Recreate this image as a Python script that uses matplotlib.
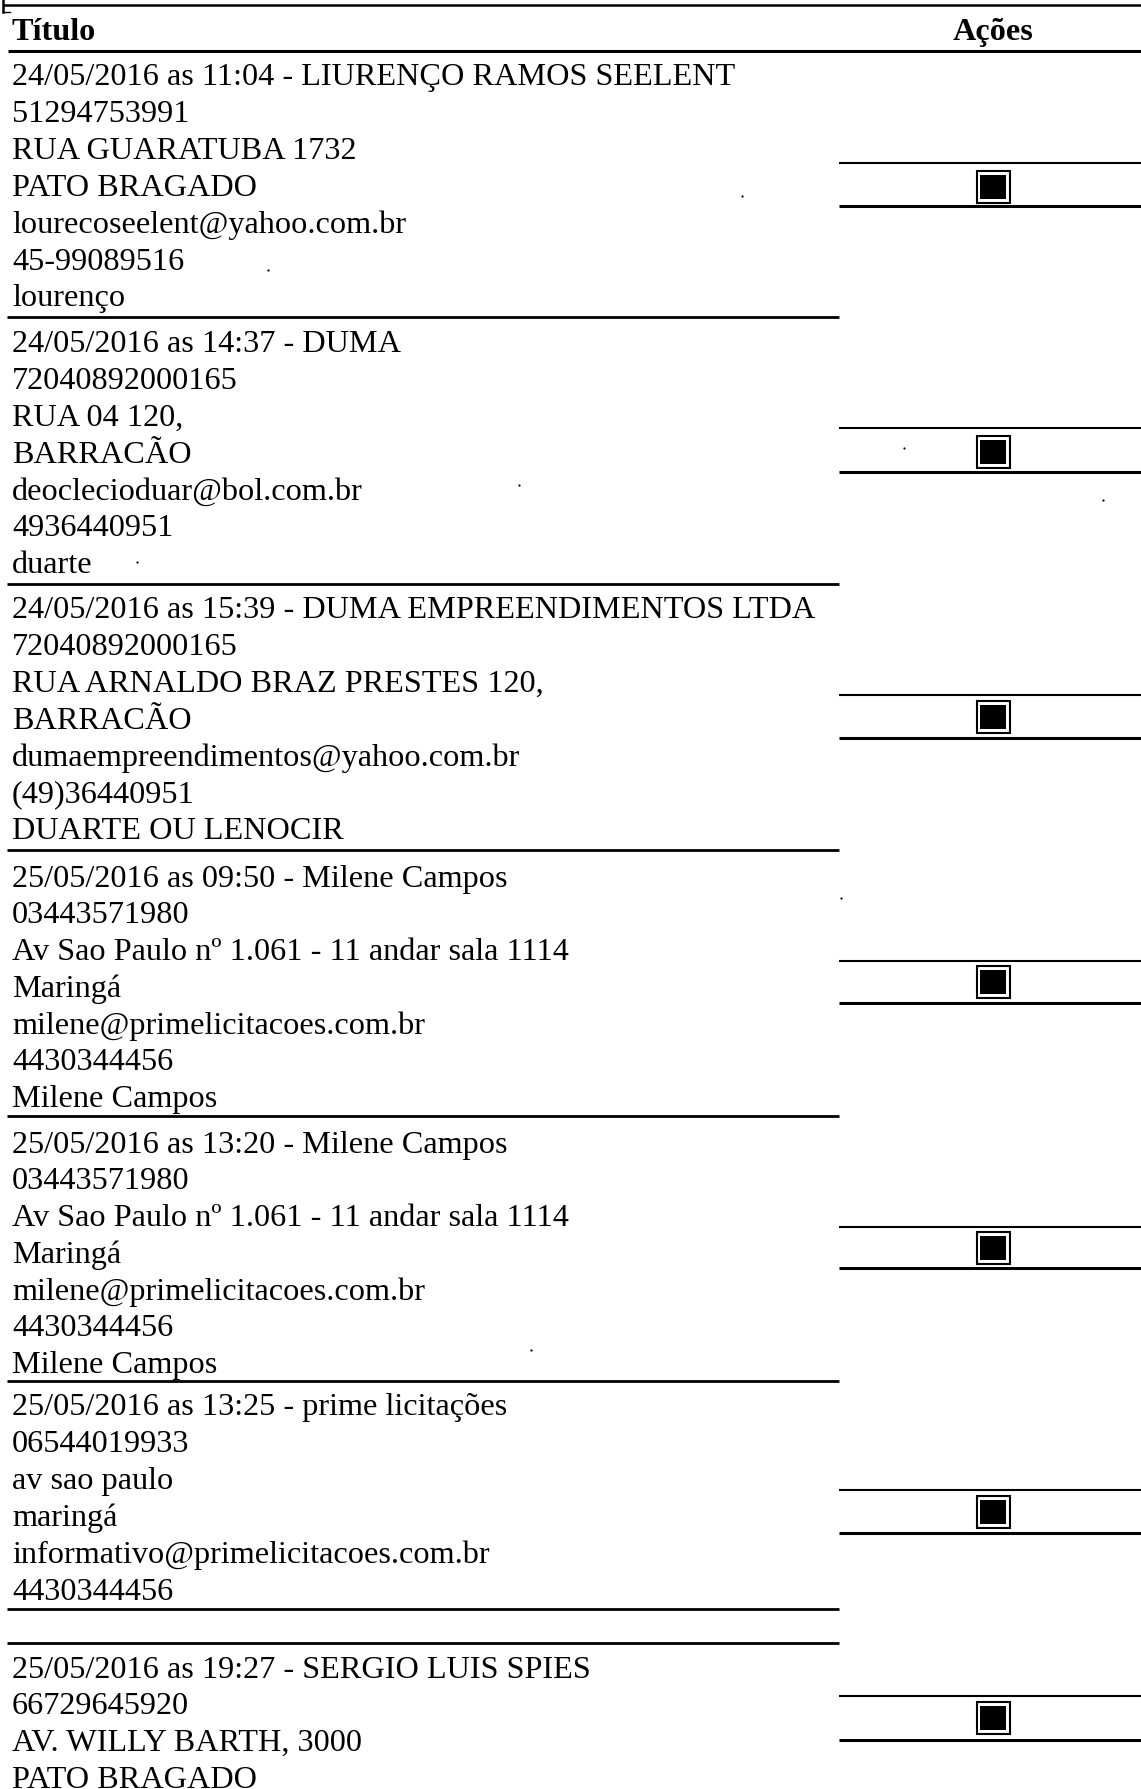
import matplotlib.pyplot as plt
from matplotlib.patches import Rectangle

# conteudo da tabela (texto de cada registro)
cabecalho = ["Título", "Ações"]

registros = [
    ["24/05/2016 as 11:04 - LIURENÇO RAMOS SEELENT", "51294753991", "RUA GUARATUBA 1732",
     "PATO BRAGADO", "lourecoseelent@yahoo.com.br", "45-99089516", "lourenço"],
    ["24/05/2016 as 14:37 - DUMA", "72040892000165", "RUA 04 120,", "BARRACÃO",
     "deocleciodua" "r@bol.com.br", "4936440951", "duarte"],
    ["24/05/2016 as 15:39 - DUMA EMPREENDIMENTOS LTDA", "72040892000165",
     "RUA ARNALDO BRAZ PRESTES 120,", "BARRACÃO", "dumaempreendimentos@yahoo.com.br",
     "(49)36440951", "DUARTE OU LENOCIR"],
    ["25/05/2016 as 09:50 - Milene Campos", "03443571980", "Av Sao Paulo nº 1.061 - 11 andar sala 1114",
     "Maringá", "milene@primelicitacoes.com.br", "4430344456", "Milene Campos"],
    ["25/05/2016 as 13:20 - Milene Campos", "03443571980", "Av Sao Paulo nº 1.061 - 11 andar sala 1114",
     "Maringá", "milene@primelicitacoes.com.br", "4430344456", "Milene Campos"],
    ["25/05/2016 as 13:25 - prime licitações", "06544019933", "av sao paulo", "maringá",
     "informativo@primelicitacoes.com.br", "4430344456"],
    ["25/05/2016 as 19:27 - SERGIO LUIS SPIES", "66729645920", "AV. WILLY BARTH, 3000", "PATO BRAGADO"],
]

# layout em pixels da imagem (1141 x 1789)
W, H = 1141, 1789
x_texto = 12
x_coluna = 839
x_icone = 993
passo_linha = 36.8
y_primeira = [75, 342, 608, 876, 1142, 1405, 1667]
y_separadores = [317, 584, 850, 1116, 1381, 1609, 1643]
y_linhas_acao = [(163, 206), (428, 472), (695, 738), (961, 1003), (1227, 1268), (1490, 1533), (1696, 1740)]
y_icones = [187, 452, 717, 982, 1248, 1512, 1718]
sujeira = [(742, 196), (268, 270), (519, 485), (1103, 500), (137, 562), (904, 448), (531, 1350), (841, 898)]

fonte = ['Liberation Serif', 'DejaVu Serif']
tam = 23.2

fig = plt.figure(figsize=(W / 100, H / 100), dpi=100)
ax = fig.add_axes([0, 0, 1, 1])
ax.set_xlim(0, W)
ax.set_ylim(H, 0)
ax.axis('off')

# borda superior do quadro
ax.plot([3, W], [5, 5], color='black', lw=1.8, solid_capstyle='butt')
ax.plot([3, 3], [0, 12], color='black', lw=1.8)
ax.plot([3, 10], [12, 12], color='black', lw=1.0)

# cabecalho
ax.text(x_texto, 40, cabecalho[0], family=fonte, fontsize=tam, fontweight='bold', va='baseline', ha='left')
ax.text(x_icone, 40, cabecalho[1], family=fonte, fontsize=tam, fontweight='bold', va='baseline', ha='center')
ax.plot([8, W], [51, 51], color='black', lw=2.2, solid_capstyle='butt')

# registros
for i, linhas in enumerate(registros):
    for j, t in enumerate(linhas):
        yb = y_primeira[i] + j * passo_linha + 10.5
        ax.text(x_texto, yb, t, family=fonte, fontsize=tam, va='baseline', ha='left')

for y in y_separadores:
    ax.plot([7, x_coluna], [y, y], color='black', lw=2.0, solid_capstyle='butt')

for (ya, yb) in y_linhas_acao:
    ax.plot([x_coluna, W], [ya, ya], color='black', lw=1.5, solid_capstyle='butt')
    ax.plot([x_coluna, W], [yb, yb], color='black', lw=2.2, solid_capstyle='butt')

# icone de acao (quadrado com borda)
for y in y_icones:
    ax.add_patch(Rectangle((x_icone - 16.5, y - 16), 33, 32, fill=False, edgecolor='black', lw=1.5))
    ax.add_patch(Rectangle((x_icone - 13, y - 12.5), 26, 24, facecolor='black', edgecolor='none'))

# pequenas marcas da digitalizacao
for (sx, sy) in sujeira:
    ax.plot(sx, sy, marker='o', ms=1.6, color='black', mec='none')

fig.savefig('out.png', dpi=100, facecolor='white')
